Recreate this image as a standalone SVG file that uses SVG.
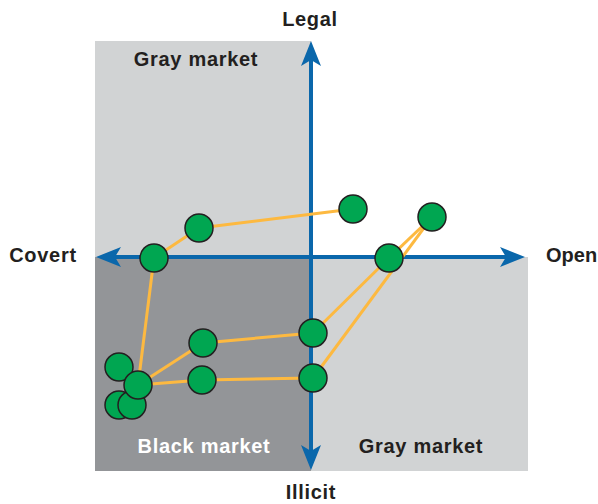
<svg xmlns="http://www.w3.org/2000/svg" width="598" height="504" viewBox="0 0 598 504">
<style>
.lbl{font-family:"Liberation Sans",Arial,sans-serif;font-weight:bold;font-size:20px;letter-spacing:0.7px;fill:#231f20;text-anchor:middle}
.wh{fill:#ffffff}
.axis{stroke:#0a67ab;stroke-width:4;fill:none}
.edge{stroke:#fdb940;stroke-width:3;fill:none}
.node{fill:#00a651;stroke:#231f20;stroke-width:1.5}
</style>
<defs>
<marker id="ah" markerUnits="userSpaceOnUse" markerWidth="40" markerHeight="40" refX="0" refY="0" orient="auto-start-reverse" overflow="visible" viewBox="-20 -20 40 40">
<path d="M15,0 L-10,-10 L-4,0 L-10,10 Z" fill="#0a67ab"/>
</marker>
</defs>
<g id="quadrants">
<rect x="95" y="41" width="216" height="216" fill="#d1d3d4"/>
<rect x="95" y="257" width="216" height="214" fill="#939598"/>
<rect x="311" y="257" width="217" height="214" fill="#d1d3d4"/>
</g>
<g id="axes">
<line class="axis" x1="311" y1="56" x2="311" y2="455" marker-start="url(#ah)" marker-end="url(#ah)"/>
<line class="axis" x1="111" y1="257" x2="510" y2="257" marker-start="url(#ah)" marker-end="url(#ah)"/>
</g>
<g id="labels">
<text class="lbl" x="310" y="26">Legal</text>
<text class="lbl" x="311" y="499">Illicit</text>
<text class="lbl" x="43" y="262">Covert</text>
<text class="lbl" x="546" y="262" style="text-anchor:start;letter-spacing:0">Open</text>
<text class="lbl" x="196" y="66">Gray market</text>
<text class="lbl wh" x="204" y="453">Black market</text>
<text class="lbl" x="421" y="453">Gray market</text>
</g>
<g id="connectors">
<line class="edge" x1="154" y1="258" x2="199" y2="228"/>
<line class="edge" x1="199" y1="228" x2="353" y2="209"/>
<line class="edge" x1="154" y1="258" x2="138" y2="385"/>
<line class="edge" x1="138" y1="385" x2="203" y2="343"/>
<line class="edge" x1="203" y1="343" x2="313" y2="333"/>
<line class="edge" x1="138" y1="385" x2="202" y2="380"/>
<line class="edge" x1="202" y1="380" x2="313" y2="378"/>
<line class="edge" x1="313" y1="333" x2="389" y2="258"/>
<line class="edge" x1="389" y1="258" x2="432" y2="217"/>
<line class="edge" x1="313" y1="378" x2="432" y2="217"/>
</g>
<g id="n-a"><circle class="node" cx="199" cy="228" r="14"/></g>
<g id="n-b"><circle class="node" cx="154" cy="258" r="14"/></g>
<g id="n-c"><circle class="node" cx="353" cy="209" r="14"/></g>
<g id="n-d"><circle class="node" cx="432" cy="217" r="14"/></g>
<g id="n-e"><circle class="node" cx="389" cy="258" r="14"/></g>
<g id="n-f"><circle class="node" cx="313" cy="333" r="14"/></g>
<g id="n-g"><circle class="node" cx="313" cy="378" r="14"/></g>
<g id="n-h"><circle class="node" cx="203" cy="343" r="14"/></g>
<g id="n-i"><circle class="node" cx="202" cy="380" r="14"/></g>
<g id="n-j"><circle class="node" cx="119" cy="367" r="14"/></g>
<g id="n-l"><circle class="node" cx="119" cy="405" r="14"/></g>
<g id="n-m"><circle class="node" cx="132" cy="405" r="14"/></g>
<g id="n-k"><circle class="node" cx="138" cy="385" r="14"/></g>
</svg>
